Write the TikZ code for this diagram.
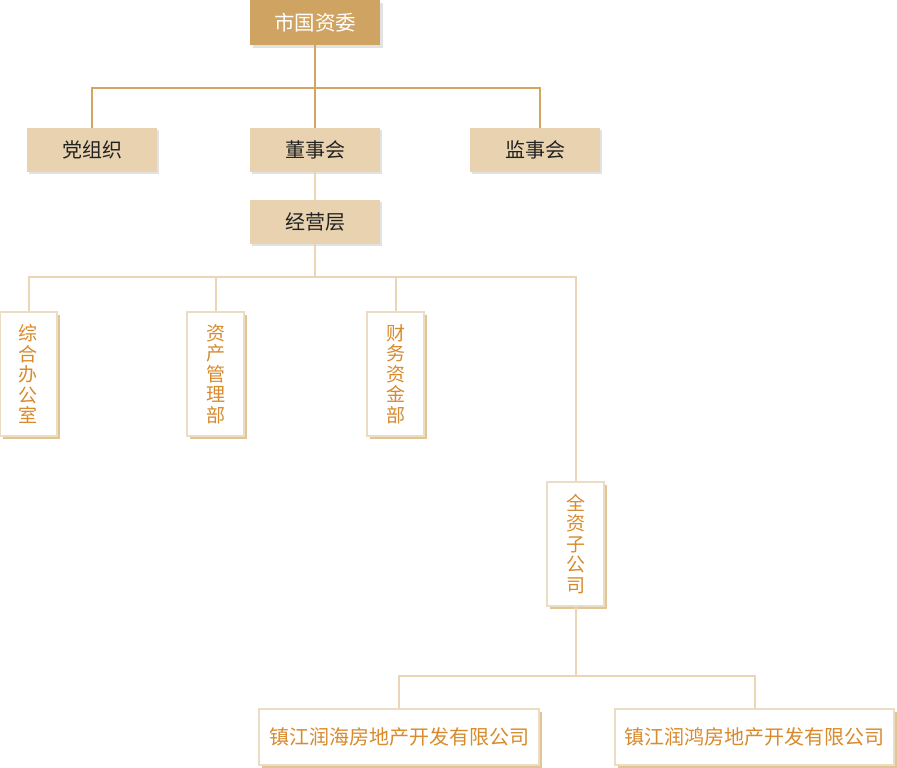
\documentclass[tikz,border=0pt]{standalone}
\usepackage{fontspec}
\setmainfont{Noto Sans CJK SC}
\usetikzlibrary{shadows}
\definecolor{topc}{HTML}{CFA462}
\definecolor{fillc}{HTML}{E8D2B0}
\definecolor{darkln}{HTML}{D2A560}
\definecolor{lightln}{HTML}{EAD6B6}
\definecolor{orangetx}{HTML}{D88A2C}
\definecolor{bordc}{HTML}{EBDCC4}
\definecolor{tanshadow}{HTML}{E2C595}
\definecolor{grayshadow}{HTML}{E2E2E2}
\definecolor{darktx}{HTML}{222222}
\begin{document}
\begin{tikzpicture}[x=1pt,y=-1pt,
  topbox/.style={fill=topc, text=white, minimum width=130pt, minimum height=45pt, inner sep=0pt,
    font=\fontsize{20.5}{22}\selectfont,
    general shadow={shadow xshift=3pt, shadow yshift=-3pt, fill=grayshadow}},
  fbox/.style={fill=fillc, text=darktx, minimum width=130pt, minimum height=44pt, inner sep=0pt,
    font=\fontsize{20}{22}\selectfont,
    general shadow={shadow xshift=2pt, shadow yshift=-2pt, fill=grayshadow}},
  vbox/.style={fill=white, draw=bordc, line width=1.5pt, text=orangetx, minimum width=57pt, minimum height=124pt,
    inner sep=0pt, align=center, font=\fontsize{19}{20.5}\selectfont,
    general shadow={shadow xshift=3pt, shadow yshift=-3pt, fill=tanshadow}},
  hbox/.style={fill=white, draw=bordc, line width=1.5pt, text=orangetx, minimum height=56pt,
    inner sep=0pt, font=\fontsize{20}{22}\selectfont,
    general shadow={shadow xshift=3pt, shadow yshift=-3pt, fill=tanshadow}},
  dline/.style={draw=darkln, line width=2pt},
  lline/.style={draw=lightln, line width=2pt}]
\useasboundingbox (0,0) rectangle (897,768);
% coordinates for connectors
\coordinate (h1) at (315,88);
\coordinate (jn) at (540,128);
\coordinate (h2) at (315,277);
\coordinate (h3) at (575.5,676);
% nodes
\node[topbox] (gzw) at (315,22.5) {市国资委};
\node[fbox] (dzz) at (92,150) {党组织};
\node[fbox] (dsh) at (315,150) {董事会};
\node[fbox] (jsh) at (535,150) {监事会};
\node[fbox] (jyc) at (315,222) {经营层};
\node[vbox] (v1) at (28.5,374) {综\\合\\办\\公\\室};
\node[vbox] (v2) at (215.5,374) {资\\产\\管\\理\\部};
\node[vbox] (v3) at (395.5,374) {财\\务\\资\\金\\部};
\node[vbox] (v4) at (575.5,544) {全\\资\\子\\公\\司};
\node[hbox, minimum width=280pt] (b1) at (399,737) {镇江润海房地产开发有限公司};
\node[hbox, minimum width=279pt] (b2) at (754.5,737) {镇江润鸿房地产开发有限公司};
% connectors
\draw[dline] (gzw.south) -- (dsh.north);
\draw[dline] (dzz.north) |- (h1) -| (jn);
\draw[lline] (dsh.south) -- (jyc.north);
\draw[lline] (jyc.south) -- (h2);
\draw[lline] (v1.north) |- (h2) -| (v4.north);
\draw[lline] (v2.north) -- (v2.north |- h2);
\draw[lline] (v3.north) -- (v3.north |- h2);
\draw[lline] (v4.south) -- (h3);
\draw[lline] (b1.north) |- (h3) -| (b2.north);
\end{tikzpicture}
\end{document}
